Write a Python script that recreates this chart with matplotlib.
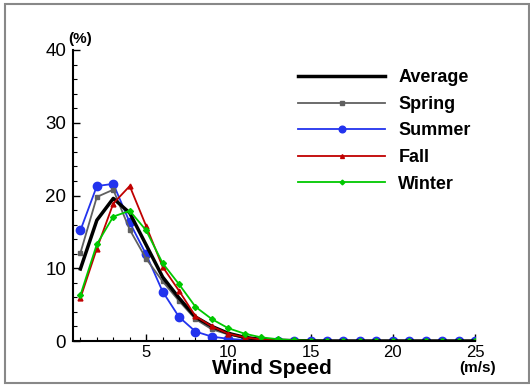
import matplotlib
matplotlib.use('Agg')
import matplotlib.pyplot as plt
from matplotlib.patches import Rectangle
from matplotlib.ticker import MultipleLocator

plt.rcParams['font.family'] = ['Liberation Sans', 'DejaVu Sans']

speed = list(range(1, 26))
average = [9.9, 16.6, 19.6, 17.6, 13.2, 8.8, 5.9, 3.3, 2.0, 1.05, 0.5, 0.2, 0.1, 0.05, 0.02,
           0, 0, 0, 0, 0, 0, 0, 0, 0, 0]
spring = [12.1, 19.8, 20.8, 15.3, 11.3, 8.2, 5.5, 3.0, 1.6, 0.9, 0.4, 0.2, 0.1, 0.05, 0.02,
          0, 0, 0, 0, 0, 0, 0, 0, 0, 0]
summer = [15.2, 21.3, 21.6, 16.3, 11.9, 6.8, 3.3, 1.3, 0.6, 0.3, 0.15, 0.05, 0.02, 0, 0,
          0, 0, 0, 0, 0, 0, 0, 0, 0, 0]
fall = [5.9, 12.7, 18.9, 21.3, 15.8, 10.2, 6.9, 3.4, 2.0, 1.0, 0.5, 0.2, 0.1, 0.05, 0.02,
        0, 0, 0, 0, 0, 0, 0, 0, 0, 0]
winter = [6.3, 13.3, 17.1, 17.9, 15.2, 10.7, 7.8, 4.7, 3.0, 1.75, 1.0, 0.5, 0.25, 0.1, 0.05,
          0.02, 0, 0, 0, 0, 0, 0, 0, 0, 0]

fig = plt.figure(figsize=(5.3, 3.85), dpi=100)
ax = fig.add_axes([73 / 530, 1 - 341 / 385, (475 - 73) / 530, (341 - 50) / 385])

h_sum, = ax.plot(speed, summer, color='#2233ee', lw=1.3, marker='o', ms=6, label='Summer')
h_spr, = ax.plot(speed, spring, color='#606060', lw=1.3, marker='s', ms=3.5, label='Spring')
h_avg, = ax.plot(speed, average, color='black', lw=2.5, label='Average')
h_fal, = ax.plot(speed, fall, color='#c00000', lw=1.3, marker='^', ms=3.5, label='Fall')
h_win, = ax.plot(speed, winter, color='#00c800', lw=1.3, marker='D', ms=3, label='Winter')

ax.set_xlim(0.55, 25)
ax.set_ylim(0, 40)
ax.xaxis.set_major_locator(MultipleLocator(5))
ax.xaxis.set_minor_locator(MultipleLocator(1))
ax.yaxis.set_major_locator(MultipleLocator(10))
ax.yaxis.set_minor_locator(MultipleLocator(2))
ax.tick_params(which='major', direction='in', length=5, width=1)
ax.tick_params(which='minor', direction='in', length=3, width=0.8)
ax.tick_params(axis='y', labelsize=13.5, pad=5)
ax.tick_params(axis='x', labelsize=12, pad=3)
ax.spines['top'].set_visible(False)
ax.spines['right'].set_visible(False)
ax.spines['left'].set_linewidth(1.5)
ax.spines['bottom'].set_linewidth(1.5)

fig.text(80 / 530, 1 - 39 / 385, '(%)', fontsize=11, fontweight='bold', ha='center', va='center')
fig.text(478 / 530, 1 - 368 / 385, '(m/s)', fontsize=11, fontweight='bold', ha='center', va='center')
fig.text(272 / 530, 1 - 369 / 385, 'Wind Speed', fontsize=15, fontweight='bold', ha='center', va='center')

ax.legend(handles=[h_avg, h_spr, h_sum, h_fal, h_win], loc='upper left',
          bbox_to_anchor=(282 / 530, 1 - 53 / 385), bbox_transform=fig.transFigure,
          frameon=False, prop={'size': 13, 'weight': 'bold'}, handlelength=4.8,
          handletextpad=0.75, labelspacing=0.53, markerscale=0.8)

fig.patches.append(Rectangle((5 / 530, 1 - 383 / 385), 524 / 530, 379 / 385,
                             transform=fig.transFigure, fill=False, edgecolor='#888888', lw=1.5))

fig.savefig('out.png', dpi=100)
